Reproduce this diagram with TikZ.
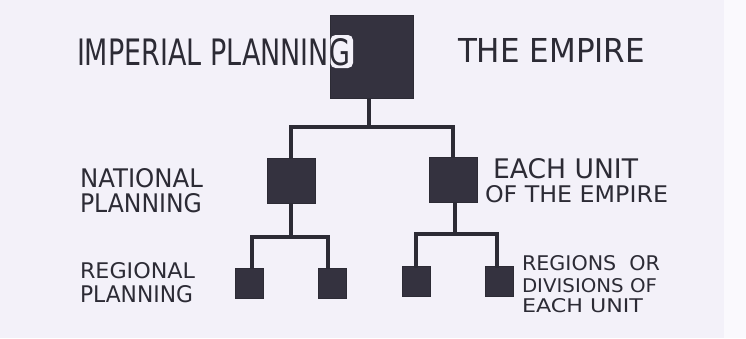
\documentclass[tikz,border=0pt]{standalone}
\usepackage{fontspec}
\setmainfont{DejaVu Sans}
\usepackage{graphicx}
\definecolor{paper}{HTML}{F3F1F9}
\definecolor{ink}{HTML}{2C2B35}
\definecolor{boxfill}{HTML}{34323F}
\newcommand\fitlabel[3]{\resizebox{#1pt}{#2pt}{#3}}
\tikzset{
  orgbox/.style={draw=ink, fill=boxfill, line width=1pt, inner sep=0pt},
  bigbox/.style={orgbox, minimum width=83pt, minimum height=83pt},
  midbox/.style={orgbox, minimum width=48pt, minimum height=45pt},
  smallbox/.style={orgbox, minimum width=28pt, minimum height=30pt},
  link/.style={draw=ink, line width=3.8pt},
  lbl/.style={anchor=north west, inner sep=0pt, outer sep=0pt, text=ink}
}
\begin{document}
\begin{tikzpicture}[x=1pt,y=-1pt]
\fill[paper] (0,0) rectangle (746,338);
\fill[white!60!paper] (724,0) rectangle (746,338);
\useasboundingbox (0,0) rectangle (746,338);

% boxes
\node[bigbox] (top) at (371.5,56.5) {};
\node[midbox] (nat) at (291,180.5) {};
\node[midbox] (unit) at (453,179.5) {};
\node[smallbox] (r1) at (249,283) {};
\node[smallbox] (r2) at (332,283) {};
\node[smallbox] (r3) at (416,281.5) {};
\node[smallbox] (r4) at (499,281.5) {};
% light halo behind the last letter where it overlaps the top box
\fill[paper, rounded corners=5pt] (330.5,35) rectangle (353,68);

% connectors
\coordinate (j0) at (369,127);
\coordinate (j1) at (291,237);
\coordinate (j2) at (455,234);
\draw[link] (top.south -| j0) -- (j0);
\draw[link, line cap=rect] (j0) -| (nat.north);
\draw[link, line cap=rect] (j0) -| (unit.north);
\draw[link] (nat.south) -- (j1);
\draw[link, line cap=rect] (j1) -| ([xshift=3pt]r1.north);
\draw[link, line cap=rect] (j1) -| ([xshift=-4pt]r2.north);
\draw[link] (unit.south -| j2) -- (j2);
\draw[link, line cap=rect] (j2) -| (r3.north);
\draw[link, line cap=rect] (j2) -| ([xshift=-2pt]r4.north);

% labels
\node[lbl] (imp) at (77,38) {\fitlabel{273}{27}{IMPERIAL PLANNING}};
\node[lbl] (emp) at (458,38) {\fitlabel{187}{24}{THE EMPIRE}};
\node[lbl] (nat1) at (80,168) {\fitlabel{123}{19}{NATIONAL}};
\node[lbl] (nat2) at (80,193) {\fitlabel{122}{19}{PLANNING}};
\node[lbl] (eu1) at (493,158) {\fitlabel{145}{20}{EACH UNIT}};
\node[lbl] (eu2) at (485,185) {\fitlabel{183}{17}{OF THE EMPIRE}};
\node[lbl] (reg1) at (80,262) {\fitlabel{115}{16}{REGIONAL}};
\node[lbl] (reg2) at (80,285) {\fitlabel{113}{17}{PLANNING}};
\node[lbl] (rd1) at (522,255) {\fitlabel{138}{15}{REGIONS\ \ OR}};
\node[lbl] (rd2) at (522,278) {\fitlabel{135}{14}{DIVISIONS OF}};
\node[lbl] (rd3) at (522,298) {\fitlabel{121}{14}{EACH UNIT}};
\end{tikzpicture}
\end{document}
